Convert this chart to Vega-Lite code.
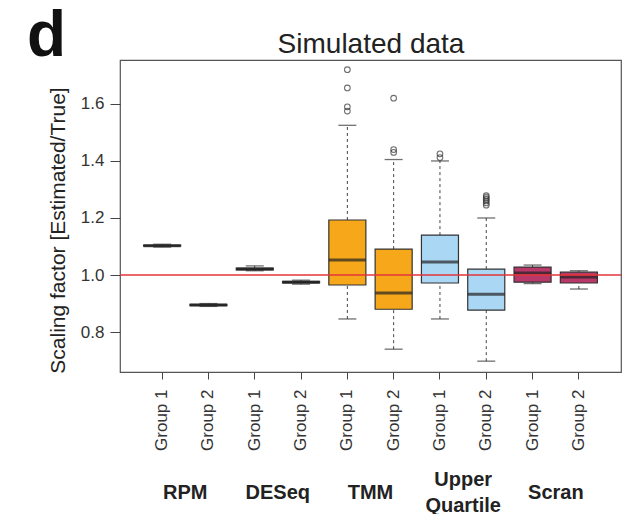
{
  "$schema": "https://vega.github.io/schema/vega-lite/v6.json",
  "width": 501,
  "height": 312,
  "autosize": "none",
  "padding": {"left": 120, "top": 60, "right": 5, "bottom": 142},
  "background": "white",
  "config": {
    "font": "Liberation Sans",
    "view": {"stroke": "#555", "strokeWidth": 1.2},
    "axis": {"grid": false}
  },
  "title": {
    "text": "d",
    "anchor": "start",
    "frame": "group",
    "fontSize": 64,
    "fontWeight": "bold",
    "color": "#111",
    "baseline": "alphabetic",
    "offset": 0,
    "dx": -93,
    "dy": 90
  },
  "datasets": {
    "boxes": [
      {"key": "RPM|Group 1", "method": "RPM", "lo": 1.098, "q1": 1.101, "med": 1.103, "q3": 1.105, "hi": 1.108},
      {"key": "RPM|Group 2", "method": "RPM", "lo": 0.890, "q1": 0.893, "med": 0.895, "q3": 0.897, "hi": 0.900},
      {"key": "DESeq|Group 1", "method": "DESeq", "lo": 1.015, "q1": 1.018, "med": 1.021, "q3": 1.024, "hi": 1.032},
      {"key": "DESeq|Group 2", "method": "DESeq", "lo": 0.968, "q1": 0.972, "med": 0.975, "q3": 0.978, "hi": 0.982},
      {"key": "TMM|Group 1", "method": "TMM", "lo": 0.846, "q1": 0.965, "med": 1.053, "q3": 1.193, "hi": 1.525},
      {"key": "TMM|Group 2", "method": "TMM", "lo": 0.740, "q1": 0.880, "med": 0.937, "q3": 1.091, "hi": 1.405},
      {"key": "Upper Quartile|Group 1", "method": "Upper Quartile", "lo": 0.846, "q1": 0.972, "med": 1.046, "q3": 1.140, "hi": 1.400},
      {"key": "Upper Quartile|Group 2", "method": "Upper Quartile", "lo": 0.698, "q1": 0.877, "med": 0.933, "q3": 1.021, "hi": 1.200},
      {"key": "Scran|Group 1", "method": "Scran", "lo": 0.970, "q1": 0.975, "med": 1.007, "q3": 1.028, "hi": 1.035},
      {"key": "Scran|Group 2", "method": "Scran", "lo": 0.951, "q1": 0.972, "med": 0.993, "q3": 1.010, "hi": 1.015}
    ],
    "outliers": [
      {"key": "TMM|Group 1", "v": 1.720},
      {"key": "TMM|Group 1", "v": 1.656},
      {"key": "TMM|Group 1", "v": 1.590},
      {"key": "TMM|Group 1", "v": 1.575},
      {"key": "TMM|Group 2", "v": 1.620},
      {"key": "TMM|Group 2", "v": 1.440},
      {"key": "TMM|Group 2", "v": 1.430},
      {"key": "Upper Quartile|Group 1", "v": 1.425},
      {"key": "Upper Quartile|Group 1", "v": 1.412},
      {"key": "Upper Quartile|Group 2", "v": 1.245},
      {"key": "Upper Quartile|Group 2", "v": 1.253},
      {"key": "Upper Quartile|Group 2", "v": 1.260},
      {"key": "Upper Quartile|Group 2", "v": 1.266},
      {"key": "Upper Quartile|Group 2", "v": 1.272},
      {"key": "Upper Quartile|Group 2", "v": 1.278}
    ],
    "methods": [
      {"method": "RPM"},
      {"method": "DESeq"},
      {"method": "TMM"},
      {"method": "Upper Quartile"},
      {"method": "Scran"}
    ]
  },
  "layer": [
    {
      "data": {"name": "boxes"},
      "encoding": {
        "x": {
          "field": "key",
          "type": "nominal",
          "scale": {
            "type": "band",
            "domain": ["RPM|Group 1", "RPM|Group 2", "DESeq|Group 1", "DESeq|Group 2", "TMM|Group 1", "TMM|Group 2", "Upper Quartile|Group 1", "Upper Quartile|Group 2", "Scran|Group 1", "Scran|Group 2"],
            "paddingInner": 0.2,
            "paddingOuter": 0.51
          },
          "axis": {
            "orient": "bottom",
            "title": null,
            "domain": false,
            "labelAngle": -90,
            "labelFontSize": 17,
            "labelColor": "#333",
            "tickColor": "#444",
            "tickSize": 7,
            "labelPadding": 10,
            "labelExpr": "split(datum.value, '|')[1]"
          }
        }
      },
      "layer": [
        {
          "mark": {"type": "rule", "strokeDash": [3, 3], "color": "#444", "strokeWidth": 1},
          "encoding": {
            "y": {
              "field": "lo",
              "type": "quantitative",
              "scale": {"domain": [0.66, 1.754], "nice": false, "zero": false},
              "axis": {
                "values": [0.8, 1.0, 1.2, 1.4, 1.6],
                "format": ".1f",
                "domain": false,
                "tickSize": 10,
                "tickColor": "#444",
                "labelFontSize": 17,
                "labelColor": "#333",
                "labelPadding": 6,
                "title": "Scaling factor [Estimated/True]",
                "titleFontSize": 21,
                "titleFontWeight": "normal",
                "titleColor": "#222",
                "titlePadding": 12,
                "titleY": 170
              }
            },
            "y2": {"field": "q1"}
          }
        },
        {
          "mark": {"type": "rule", "strokeDash": [3, 3], "color": "#444", "strokeWidth": 1},
          "encoding": {
            "y": {"field": "q3", "type": "quantitative"},
            "y2": {"field": "hi"}
          }
        },
        {
          "mark": {"type": "tick", "size": 18, "thickness": 1.3, "color": "#333"},
          "encoding": {"y": {"field": "lo", "type": "quantitative"}}
        },
        {
          "mark": {"type": "tick", "size": 18, "thickness": 1.3, "color": "#333"},
          "encoding": {"y": {"field": "hi", "type": "quantitative"}}
        },
        {
          "mark": {"type": "bar", "stroke": "#333", "strokeWidth": 1.2},
          "encoding": {
            "y": {"field": "q1", "type": "quantitative"},
            "y2": {"field": "q3"},
            "fill": {
              "field": "method",
              "type": "nominal",
              "scale": {
                "domain": ["RPM", "DESeq", "TMM", "Upper Quartile", "Scran"],
                "range": ["#222222", "#222222", "#F6A81A", "#AAD7F4", "#B8386A"]
              },
              "legend": null
            }
          }
        },
        {
          "mark": {"type": "tick", "size": 37, "thickness": 3, "color": "#222"},
          "encoding": {"y": {"field": "med", "type": "quantitative"}}
        },
        {
          "data": {"name": "outliers"},
          "mark": {"type": "point", "shape": "circle", "filled": false, "size": 32, "color": "#333", "strokeWidth": 1.1},
          "encoding": {"y": {"field": "v", "type": "quantitative"}}
        }
      ]
    },
    {
      "data": {"name": "methods"},
      "mark": {"type": "point", "opacity": 0},
      "encoding": {
        "x": {
          "field": "method",
          "type": "nominal",
          "scale": {
            "type": "band",
            "domain": ["RPM", "DESeq", "TMM", "Upper Quartile", "Scran"],
            "paddingInner": 0,
            "paddingOuter": 0.203
          },
          "axis": {
            "orient": "bottom",
            "title": null,
            "domain": false,
            "ticks": false,
            "tickSize": 0,
            "labelAngle": 0,
            "labelFontSize": 20,
            "labelFontWeight": "bold",
            "labelColor": "#222",
            "labelPadding": {"condition": {"test": "datum.value == 'Upper Quartile'", "value": 107}, "value": 120},
            "labelBaseline": "middle",
            "labelLineHeight": 26,
            "labelOverlap": false,
            "labelBound": false,
            "labelExpr": "datum.value == 'Upper Quartile' ? ['Upper', 'Quartile'] : datum.value"
          }
        }
      }
    },
    {
      "data": {"name": "methods"},
      "mark": {"type": "point", "opacity": 0},
      "encoding": {
        "x": {
          "field": "method",
          "type": "nominal",
          "scale": {"type": "band"},
          "axis": {
            "orient": "top",
            "labels": false,
            "ticks": false,
            "domain": false,
            "title": "Simulated data",
            "titleFontSize": 28,
            "titleFontWeight": "normal",
            "titleColor": "#222",
            "titlePadding": 8,
            "titleBaseline": "alphabetic"
          }
        }
      }
    },
    {
      "data": {"values": [{"ref": 1.0}]},
      "mark": {"type": "rule", "color": "#E3343A", "strokeWidth": 1.5},
      "encoding": {"y": {"field": "ref", "type": "quantitative"}}
    }
  ],
  "resolve": {"scale": {"x": "independent"}, "axis": {"x": "independent"}}
}
